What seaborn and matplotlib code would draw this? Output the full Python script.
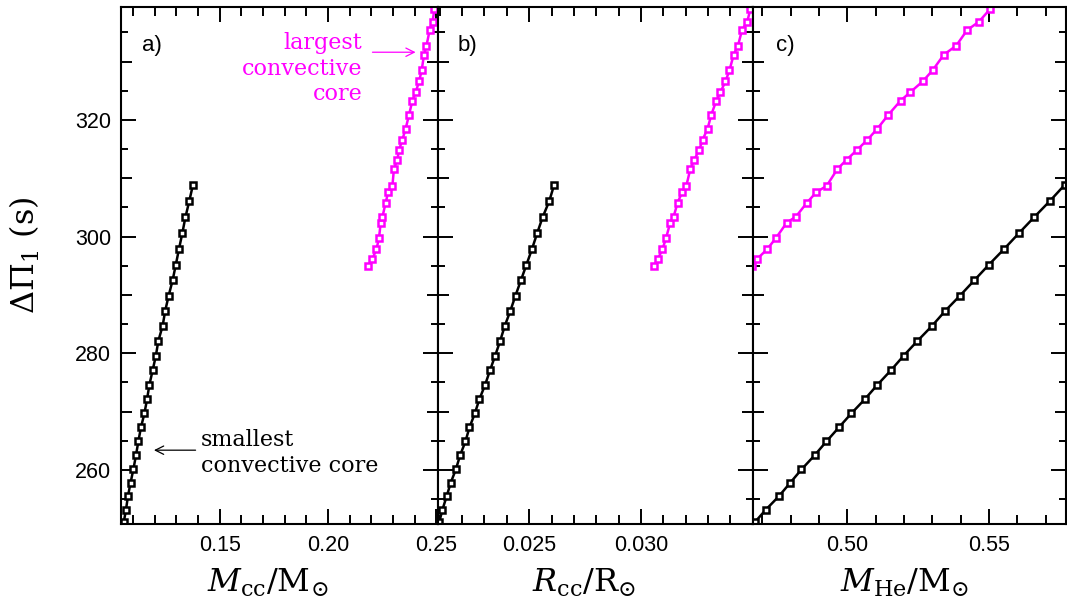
import numpy as np
import matplotlib
matplotlib.use("Agg")
import matplotlib.pyplot as plt
import seaborn as sns
import pandas as pd
from matplotlib.ticker import MultipleLocator, FuncFormatter

# ---------------- data ----------------
dp_black = [251.1, 253.2, 255.5, 257.8, 260.1, 262.5, 264.9, 267.3, 269.7, 272.1,
            274.6, 277.1, 279.6, 282.1, 284.7, 287.3, 289.9, 292.5, 295.2, 297.8,
            300.6, 303.3, 306.1, 308.9]
mcc_black = [0.1058, 0.1068, 0.1077, 0.1089, 0.1102, 0.1114, 0.1125, 0.1137, 0.1153, 0.1165,
             0.1176, 0.1191, 0.1206, 0.1217, 0.1237, 0.1249, 0.1265, 0.1283, 0.1298, 0.1312,
             0.1328, 0.1342, 0.1360, 0.1377]
rcc_black = [0.02098, 0.02112, 0.02131, 0.02149, 0.02172, 0.02191, 0.02215, 0.02233, 0.02257, 0.02277,
             0.02303, 0.02325, 0.02348, 0.02370, 0.02391, 0.02416, 0.02439, 0.02463, 0.02488, 0.02512,
             0.02536, 0.02560, 0.02590, 0.02612]
mhe_black = [0.4674, 0.4712, 0.4758, 0.4798, 0.4838, 0.4884, 0.4926, 0.4970, 0.5014, 0.5061,
             0.5106, 0.5154, 0.5199, 0.5247, 0.5299, 0.5346, 0.5398, 0.5448, 0.5500, 0.5552,
             0.5606, 0.5659, 0.5715, 0.5768]

dp_mag = [294.9, 296.2, 297.8, 299.7, 302.4, 303.4, 305.8, 307.6, 308.7, 311.6,
          313.2, 314.8, 316.6, 318.5, 320.9, 323.3, 324.7, 326.6, 328.5, 331.2,
          332.7, 335.4, 336.8, 339.0]
mcc_mag = [0.2186, 0.2205, 0.2223, 0.2235, 0.2243, 0.2251, 0.2266, 0.2277, 0.2297, 0.2304,
           0.2320, 0.2327, 0.2343, 0.2358, 0.2374, 0.2389, 0.2404, 0.2420, 0.2432, 0.2443,
           0.2454, 0.2469, 0.2482, 0.2491]
rcc_mag = [0.03057, 0.03076, 0.03096, 0.03112, 0.03131, 0.03146, 0.03164, 0.03184, 0.03203, 0.03221,
           0.03239, 0.03260, 0.03276, 0.03298, 0.03315, 0.03337, 0.03355, 0.03378, 0.03396, 0.03415,
           0.03434, 0.03452, 0.03475, 0.03490]
mhe_mag = [0.4664, 0.4682, 0.4716, 0.4747, 0.4786, 0.4818, 0.4857, 0.4890, 0.4927, 0.4965,
           0.4998, 0.5033, 0.5071, 0.5106, 0.5145, 0.5188, 0.5221, 0.5266, 0.5301, 0.5341,
           0.5384, 0.5423, 0.5464, 0.5504]

panel_tags = ["a)", "b)", "c)"]
xlabels = [r"$M_{\rm cc}/{\rm M}_{\odot}$", r"$R_{\rm cc}/{\rm R}_{\odot}$", r"$M_{\rm He}/{\rm M}_{\odot}$"]
ylabel = r"$\Delta\Pi_1$ (s)"
xtick_labels = [[0.15, 0.20, 0.25], [0.025, 0.030], [0.50, 0.55]]
xtick_fmt = ["{:.2f}", "{:.3f}", "{:.2f}"]
ytick_labels = [260, 280, 300, 320]

# ---------------- style ----------------
sns.set_theme(style="white")
plt.rcParams["font.family"] = ["Liberation Sans", "DejaVu Sans"]
plt.rcParams["mathtext.fontset"] = "dejavuserif"
plt.rcParams["axes.linewidth"] = 1.5
plt.rcParams["text.color"] = "black"
plt.rcParams["axes.labelcolor"] = "black"
plt.rcParams["xtick.color"] = "black"
plt.rcParams["ytick.color"] = "black"

BLACK = "#000000"
MAG = "#ff00ff"

fig = plt.figure(figsize=(10.67, 6.12), dpi=100)
W, H = 1067.0, 612.0
rects = [(121, 437.5), (437.5, 752.5), (752.5, 1066)]
bottom_px, top_px = 524, 7
axes = []
for (l, r) in rects:
    axes.append(fig.add_axes([l / W, (H - bottom_px) / H, (r - l) / W, (bottom_px - top_px) / H]))

xlims = [(0.1045, 0.2505), (0.0209, 0.03499), (0.4665, 0.5772)]
xmajor = [0.05, 0.005, 0.05]
xminor = [0.01, 0.001, 0.01]
ylim = (250.75, 339.35)
xlabel_x = [0.465, 0.465, 0.485]

series = [
    (mcc_black, mcc_mag),
    (rcc_black, rcc_mag),
    (mhe_black, mhe_mag),
]

for i, ax in enumerate(axes):
    xb, xm = series[i]
    df_b = pd.DataFrame({"x": xb, "y": dp_black})
    df_m = pd.DataFrame({"x": xm, "y": dp_mag})
    for df, col in ((df_b, BLACK), (df_m, MAG)):
        sns.lineplot(data=df, x="x", y="y", ax=ax, sort=False, estimator=None,
                     color=col, linewidth=1.8, marker="s", markersize=4.8,
                     markerfacecolor="white", markeredgecolor=col, markeredgewidth=1.8)
    ax.set_xlim(*xlims[i])
    ax.set_ylim(*ylim)
    ax.set_facecolor("white")
    for s in ax.spines.values():
        s.set_color("black")
        s.set_linewidth(1.5)

    ax.xaxis.set_major_locator(MultipleLocator(xmajor[i]))
    ax.xaxis.set_minor_locator(MultipleLocator(xminor[i]))
    ax.yaxis.set_major_locator(MultipleLocator(10))
    ax.yaxis.set_minor_locator(MultipleLocator(5))

    labs = xtick_labels[i]
    fmt = xtick_fmt[i]
    ax.xaxis.set_major_formatter(FuncFormatter(
        lambda v, p, labs=labs, fmt=fmt: fmt.format(v) if any(abs(v - L) < 1e-6 for L in labs) else ""))
    if i == 0:
        ax.yaxis.set_major_formatter(FuncFormatter(
            lambda v, p: "%d" % round(v) if any(abs(v - L) < 1e-6 for L in ytick_labels) else ""))
        ax.set_ylabel(ylabel, fontsize=23, family="DejaVu Serif", color="black")
        ax.yaxis.set_label_coords(-0.25, 0.52)
    else:
        ax.yaxis.set_major_formatter(FuncFormatter(lambda v, p: ""))
        ax.set_ylabel("")

    ax.tick_params(which="both", direction="in", top=True, right=True, bottom=True, left=True,
                   width=1.4, color="black", labelsize=15.5, labelcolor="black")
    ax.tick_params(axis="y", which="major", length=7.7, pad=7)
    ax.tick_params(axis="y", which="minor", length=5)
    ax.tick_params(axis="x", which="major", length=10.5, pad=8)
    ax.tick_params(axis="x", which="minor", length=6.5)

    ax.set_xlabel(xlabels[i], fontsize=23, color="black")
    ax.xaxis.set_label_coords(xlabel_x[i], -0.083)
    ax.text(0.065 if i < 2 else 0.075, 0.925, panel_tags[i], transform=ax.transAxes,
            fontsize=16, ha="left", va="center", color="black")

# annotations (panel a)
ax = axes[0]
ax.text(0.1412, 262.9, "smallest\nconvective core", family="DejaVu Serif", fontsize=16,
        ha="left", va="center", color="black")
ax.annotate("", xy=(0.1197, 263.4), xytext=(0.1389, 263.4),
            arrowprops=dict(arrowstyle="->,head_length=0.5,head_width=0.25", color="black", lw=0.9,
                            shrinkA=0, shrinkB=0))
ax.text(0.2159, 328.75, "largest\nconvective\ncore", family="DejaVu Serif", fontsize=16,
        ha="right", va="center", multialignment="right", color=MAG)
ax.annotate("", xy=(0.2404, 331.6), xytext=(0.2205, 331.6),
            arrowprops=dict(arrowstyle="->,head_length=0.5,head_width=0.25", color=MAG, lw=0.9,
                            shrinkA=0, shrinkB=0))

# three-level y ticks: labelled majors longer
fig.canvas.draw()
for ax in axes:
    locs = ax.yaxis.get_majorticklocs()
    for t, v in zip(ax.yaxis.get_major_ticks(), locs):
        if abs(v / 20 - round(v / 20)) < 1e-6:
            t.tick1line.set_markersize(10.5)
            t.tick2line.set_markersize(10.5)

fig.savefig("out.png", dpi=100, facecolor="white")
